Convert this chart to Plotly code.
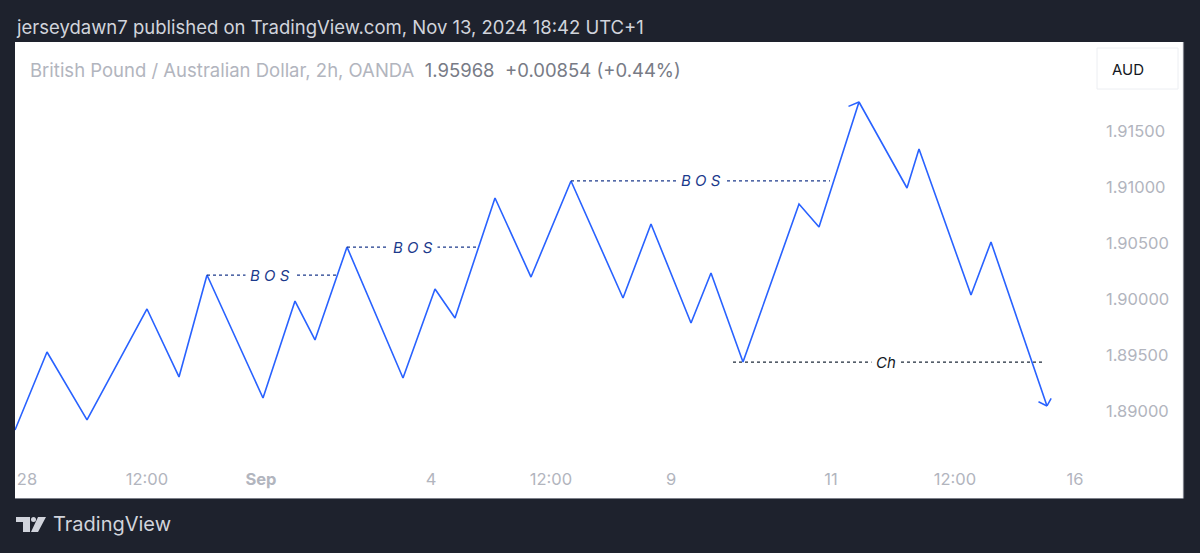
import plotly.graph_objects as go

# ---- data (bar index of 2h bars, price) ----
bars = [0, 8, 18, 33, 41, 48, 62, 70, 75, 83, 97, 105, 110, 120, 129, 139, 152, 159,
        169, 174, 182, 196, 201, 211, 223, 226, 239, 244, 258]
prices = [1.88830, 1.89527, 1.88920, 1.89911, 1.89304, 1.90214, 1.89116, 1.89982,
          1.89634, 1.90464, 1.89295, 1.90089, 1.89830, 1.90902, 1.90196, 1.91054,
          1.90009, 1.90670, 1.89786, 1.90232, 1.89437, 1.90848, 1.90643, 1.91759,
          1.90991, 1.91339, 1.90036, 1.90509, 1.89045]

# structure levels: label, start bar, end bar, level, label bar
level_labels = ["B O S", "B O S", "B O S", "Ch"]
level_start = [48, 83, 139, 179.5]
level_end = [80.5, 115.75, 203.75, 256.75]
level_price = [1.90214, 1.90464, 1.91054, 1.89437]
level_text_x = [63.75, 99.5, 171.5, 217.75]

x_tickvals = [3, 33, 61.5, 104, 134, 164, 204, 235, 265]
x_ticktext = ["28", "12:00", "<b>Sep</b>", "4", "12:00", "9", "11", "12:00", "16"]
y_tickvals = [1.890, 1.895, 1.900, 1.905, 1.910, 1.915]
y_ticktext = ["1.89000", "1.89500", "1.90000", "1.90500", "1.91000", "1.91500"]

W, H = 1200, 553
L, R, T, B = 15, 110, 42, 88
PW, PH = W - L - R, H - T - B


def px(x):
    return (x - L) / PW


def py(y):
    return (H - B - y) / PH


BLUE = "#2962ff"
NAVY = "#1c3a8c"
FONT = "Inter, Roboto, sans-serif"

fig = go.Figure()
fig.add_trace(go.Scatter(x=bars, y=prices, mode="lines",
                         line=dict(color=BLUE, width=1.6), hoverinfo="skip",
                         showlegend=False))

annotations = []
for lab, x0, x1, yv, xt in zip(level_labels, level_start, level_end, level_price, level_text_x):
    col = NAVY if lab != "Ch" else "#1e2a3a"
    fig.add_trace(go.Scatter(x=[x0, x1], y=[yv, yv], mode="lines",
                             line=dict(color=col, width=1.3, dash="dot"),
                             hoverinfo="skip", showlegend=False))
    annotations.append(dict(x=xt, y=yv, xref="x", yref="y", text=f"<i>{lab}</i>",
                            showarrow=False, bgcolor="white", borderpad=4,
                            font=dict(family=FONT, size=15,
                                      color=NAVY if lab != "Ch" else "#131722")))

# arrowhead wings
for xv, yv, ax, ay in [(bars[-1], prices[-1], -10, -5), (bars[-1], prices[-1], 5, -9),
                       (bars[23], prices[23], -12, 5)]:
    annotations.append(dict(x=xv, y=yv, xref="x", yref="y", ax=ax, ay=ay, text="",
                            showarrow=True, arrowhead=0, arrowwidth=1.5,
                            arrowcolor=BLUE, standoff=0, startstandoff=0))

# header texts
annotations.append(dict(x=px(14), y=py(27), xref="paper", yref="paper", xanchor="left",
                        yanchor="middle", showarrow=False,
                        text="jerseydawn7 published on TradingView.com, Nov 13, 2024 18:42 UTC+1",
                        font=dict(family=FONT, size=18.5, color="#d1d4dc")))
annotations.append(dict(x=px(28), y=py(70), xref="paper", yref="paper", xanchor="left",
                        yanchor="middle", showarrow=False,
                        text="British Pound / Australian Dollar, 2h, OANDA  "
                             "<span style='color:#787b86'>1.95968  +0.00854 (+0.44%)</span>",
                        font=dict(family=FONT, size=18.5, color="#b2b5be")))
annotations.append(dict(x=px(1128), y=py(69), xref="paper", yref="paper", xanchor="center",
                        yanchor="middle", showarrow=False, text="AUD",
                        font=dict(family=FONT, size=15, color="#131722")))
annotations.append(dict(x=px(51), y=py(524), xref="paper", yref="paper", xanchor="left",
                        yanchor="middle", showarrow=False, text="TradingView",
                        font=dict(family=FONT, size=20, color="#d1d4dc")))

shapes = [
    # white panel
    dict(type="rect", xref="paper", yref="paper", x0=px(15), x1=px(1183), y0=py(498),
         y1=py(42), fillcolor="white", line=dict(width=0), layer="below"),
    dict(type="line", xref="paper", yref="paper", x0=px(15), x1=px(1183), y0=py(498.5),
         y1=py(498.5), line=dict(color="#7d808a", width=1.2)),
    dict(type="line", xref="paper", yref="paper", x0=px(1183.5), x1=px(1183.5), y0=py(498.5),
         y1=py(42), line=dict(color="#7d808a", width=1.2)),
    # AUD box
    dict(type="rect", xref="paper", yref="paper", x0=px(1097), x1=px(1178), y0=py(89),
         y1=py(48), fillcolor="white", line=dict(color="#eceef2", width=1)),
    # logo
    dict(type="rect", xref="paper", yref="paper", x0=px(16), x1=px(30), y0=py(522),
         y1=py(517), fillcolor="#d1d4dc", line=dict(width=0)),
    dict(type="rect", xref="paper", yref="paper", x0=px(23), x1=px(30), y0=py(532),
         y1=py(517), fillcolor="#d1d4dc", line=dict(width=0)),
    dict(type="circle", xref="paper", yref="paper", x0=px(31), x1=px(36), y0=py(522),
         y1=py(517), fillcolor="#d1d4dc", line=dict(width=0)),
    dict(type="path", xref="paper", yref="paper",
         path=f"M {px(38)} {py(517)} L {px(46)} {py(517)} L {px(38)} {py(532)} L {px(31)} {py(532)} Z",
         fillcolor="#d1d4dc", line=dict(width=0)),
]

fig.update_layout(
    width=W, height=H, margin=dict(l=L, r=R, t=T, b=B),
    paper_bgcolor="#1e222d", plot_bgcolor="white",
    font=dict(family=FONT),
    showlegend=False,
    annotations=annotations, shapes=shapes,
    xaxis=dict(range=[0, PW / 4], tickvals=x_tickvals, ticktext=x_ticktext,
               showgrid=False, zeroline=False, showline=False, ticks="",
               ticklabelstandoff=2,
               tickfont=dict(family=FONT, size=16.5, color="#b2b5be")),
    yaxis=dict(range=[1.890 - 54 / 11200, 1.915 + 89 / 11200], side="right",
               tickvals=y_tickvals, ticktext=y_ticktext, showgrid=False,
               zeroline=False, showline=False, ticks="", ticklabelstandoff=15,
               tickfont=dict(family=FONT, size=16.5, color="#b2b5be")),
)

fig.write_html("out.html",
               config={"displayModeBar": False},
               post_script="document.body.style.margin='0';"
                           "document.body.style.background='#1e222d';")
